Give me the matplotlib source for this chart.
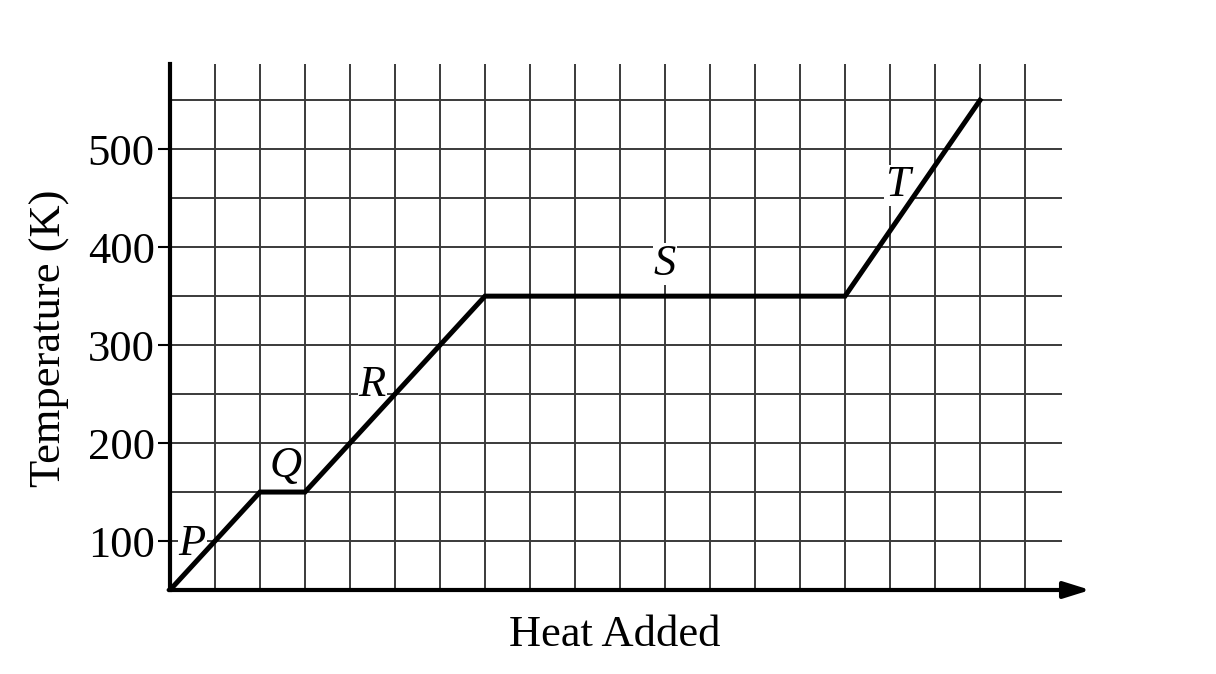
import matplotlib
matplotlib.use("Agg")
from matplotlib import pyplot as plt

# heating curve, x in grid units of heat added
heat = [0, 2, 3, 7, 15, 18]
temp = [50, 150, 150, 350, 350, 550]

seg_names = ["P", "Q", "R", "S", "T"]
seg_x = [0.49, 2.56, 4.49, 11.0, 16.16]
seg_y = [97, 177, 259, 383, 463]

yticks = [100, 200, 300, 400, 500]
xgrid = list(range(1, 20))
ygrid = list(range(100, 600, 50))

plt.rcParams['font.family'] = ['Liberation Serif', 'DejaVu Serif']

fig = plt.figure(figsize=(12.16, 6.74), dpi=100)
ax = fig.add_axes([170/1216, 1 - 590/674, (1088-170)/1216, (590-64)/674])
x_max = 20.4
y_top = 587
ax.set_xlim(0, x_max)
ax.set_ylim(50, y_top)

gc = '#3a3a3a'
ax.vlines(xgrid, 50, y_top, color=gc, lw=1.4, zorder=1)
ax.hlines(ygrid, 0, 19.82, color=gc, lw=1.4, zorder=1)

ax.plot(heat, temp, color='black', lw=3.6, solid_joinstyle='miter', zorder=3)

for name, x, y in zip(seg_names, seg_x, seg_y):
    ax.text(x, y, name, fontsize=32, style='italic', ha='center', va='center',
            bbox=dict(facecolor='white', edgecolor='none', pad=0.5), zorder=2)

for s in ['top', 'right', 'bottom']:
    ax.spines[s].set_visible(False)
ax.spines['left'].set_linewidth(3)
ax.spines['left'].set_zorder(4)
ax.spines['left'].set_bounds(50, y_top)

ax.annotate('', xy=(x_max + 0.05, 50), xytext=(-0.03, 50),
            arrowprops=dict(arrowstyle='-|>,head_length=1.6,head_width=0.5',
                            color='black', lw=3, shrinkA=0, shrinkB=0),
            annotation_clip=False, zorder=5)

ax.set_xticks([])
ax.set_yticks(yticks)
ax.tick_params(axis='y', length=9, width=1.5, pad=2, labelsize=32)

fig.text(615/1216, 1 - 635/674, 'Heat Added', fontsize=32, ha='center', va='center')
fig.text(50/1216, 1 - 338/674, 'Temperature (K)', fontsize=32, rotation=90,
         ha='center', va='center')

fig.savefig('out.png', dpi=100, facecolor='white')
